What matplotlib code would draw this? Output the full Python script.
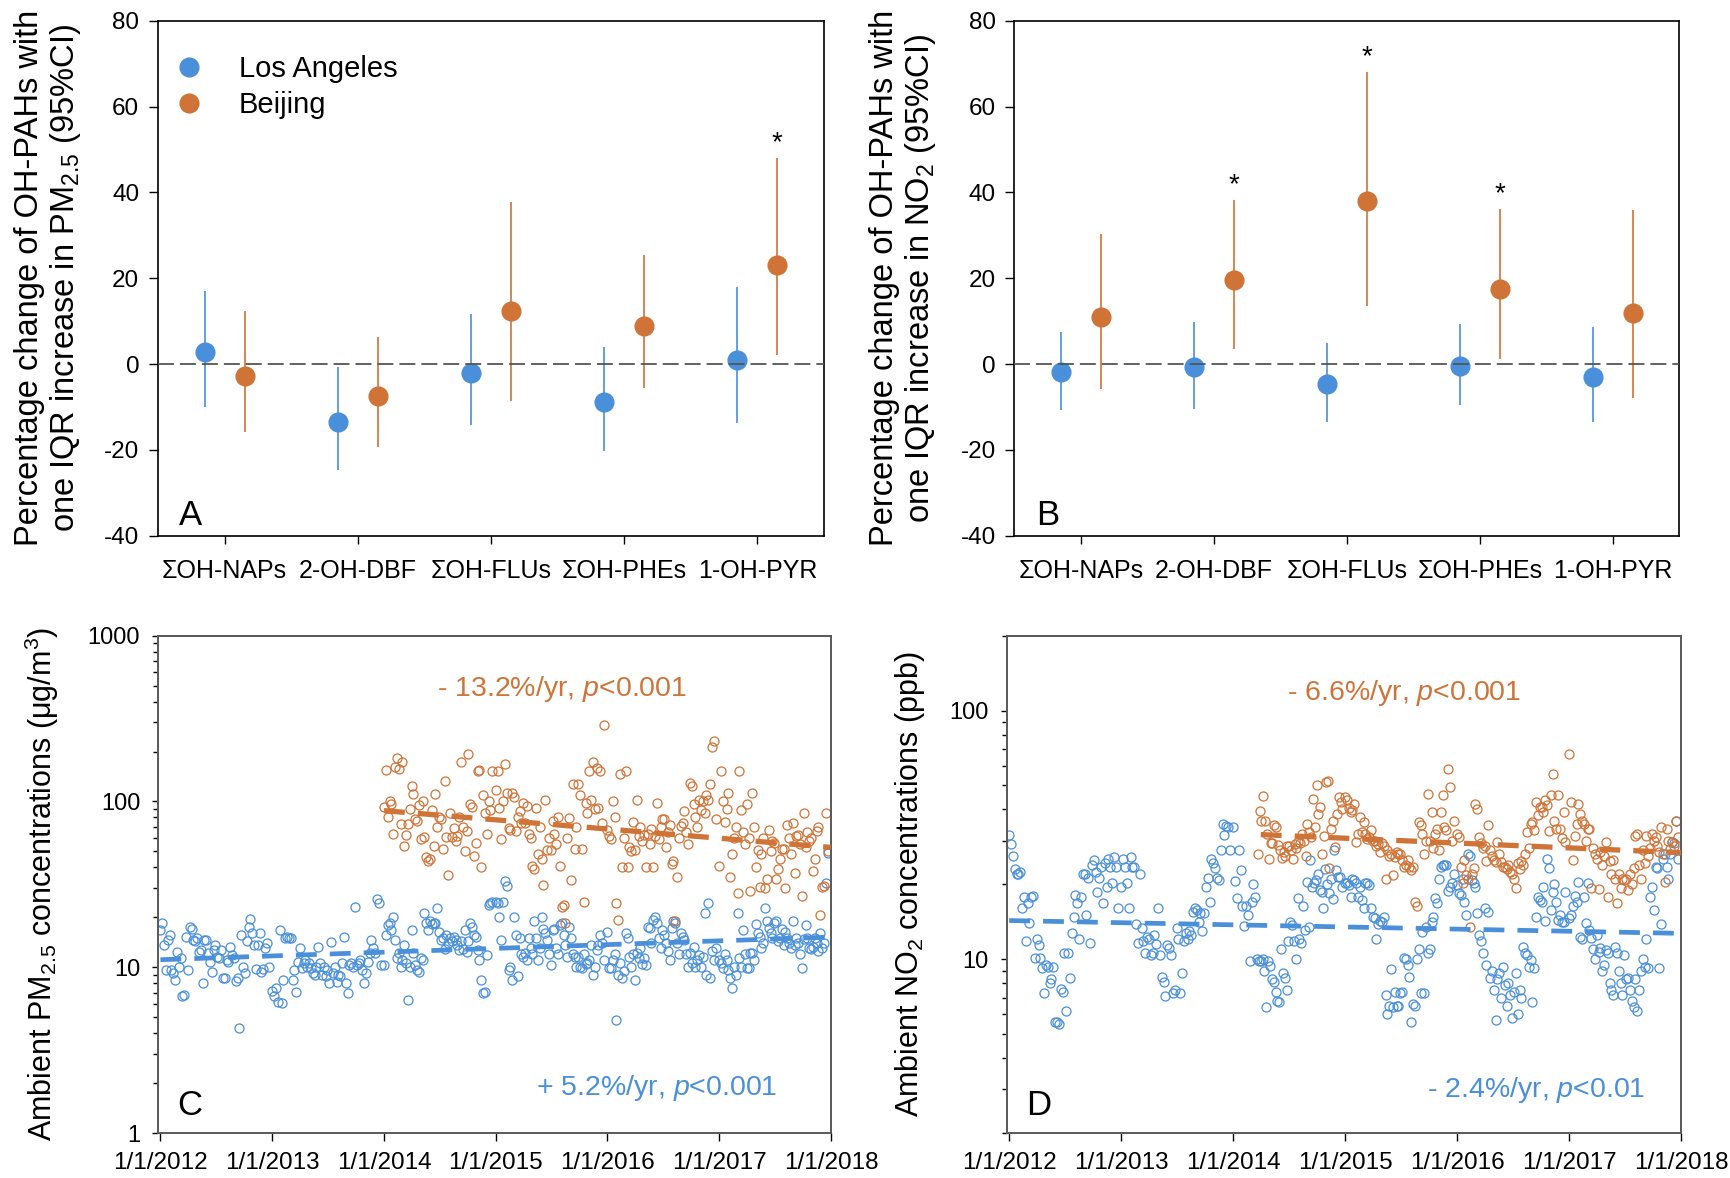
import numpy as np
import pandas as pd
import matplotlib
matplotlib.use('Agg')
import matplotlib.pyplot as plt
from matplotlib.lines import Line2D
from matplotlib.ticker import LogLocator, NullFormatter

plt.rcParams['font.family'] = ['Liberation Sans', 'DejaVu Sans']
plt.rcParams['mathtext.fontset'] = 'custom'
plt.rcParams['mathtext.rm'] = 'Liberation Sans'
plt.rcParams['mathtext.it'] = 'Liberation Sans:italic'
plt.rcParams['mathtext.bf'] = 'Liberation Sans:bold'
plt.rcParams['lines.scale_dashes'] = False
plt.rcParams['axes.unicode_minus'] = False

BLUE = '#4A8FD9'
ORANGE = '#CF7337'

# ---- panels A/B: % change per IQR (estimate, lower CI, upper CI) ----
categories = ['ΣOH-NAPs', '2-OH-DBF', 'ΣOH-FLUs', 'ΣOH-PHEs', '1-OH-PYR']

pm_la_est = [2.8, -13.4, -2.0, -8.8, 1.0]
pm_la_lo = [-10.0, -24.6, -14.1, -20.2, -13.8]
pm_la_hi = [17.0, -0.7, 11.6, 3.9, 17.9]
pm_bj_est = [-2.7, -7.4, 12.3, 8.9, 23.1]
pm_bj_lo = [-15.8, -19.4, -8.6, -5.6, 2.1]
pm_bj_hi = [12.3, 6.3, 37.7, 25.5, 48.1]
pm_bj_sig = [False, False, False, False, True]

no2_la_est = [-1.8, -0.7, -4.6, -0.5, -3.1]
no2_la_lo = [-10.8, -10.4, -13.5, -9.5, -13.5]
no2_la_hi = [7.5, 9.8, 5.0, 9.3, 8.7]
no2_bj_est = [10.9, 19.7, 38.0, 17.4, 11.9]
no2_bj_lo = [-5.8, 3.6, 13.5, 1.1, -8.0]
no2_bj_hi = [30.3, 38.2, 68.0, 36.2, 35.8]
no2_bj_sig = [False, True, True, True, False]

# ---- panels C/D: ambient concentrations, one sample every 6 days ----
date_ticks = ['2012-01-01', '2013-01-01', '2014-01-01', '2015-01-01',
              '2016-01-01', '2017-01-01', '2018-01-01']
date_labels = ['1/1/2012', '1/1/2013', '1/1/2014', '1/1/2015',
               '1/1/2016', '1/1/2017', '1/1/2018']

la_pm_2012 = [16.8, 18.6, 13.6, 9.6, 14.6, 15.7, 9.6, 9.2, 8.4, 12.4, 10.1, 11.3, 6.7, 6.8, 15.3,
              9.6, 17.6, 17.0, 14.5, 14.3, 15.0, 12.4, 12.7, 8.0, 14.6, 14.5, 12.1, 10.8, 9.4, 12.7,
              13.6, 11.6, 11.3, 12.7, 8.6, 8.6, 11.1, 10.8, 13.3, 11.9, 11.3, 8.3, 8.6, 4.3, 15.7,
              10.1, 9.2, 14.3, 17.6, 19.5, 16.1, 13.6, 9.7, 13.6, 16.1, 9.4, 9.7, 13.0, 14.0, 10.0]
la_pm_2013 = [7.2, 6.7, 7.5, 6.2, 16.8, 6.1, 8.4, 15.1, 15.3, 15.0, 15.0, 8.4, 9.6, 7.1, 10.8,
              13.0, 9.9, 10.6, 11.1, 10.1, 10.6, 9.9, 9.2, 9.0, 10.1, 13.2, 10.6, 9.0, 10.1, 8.8,
              9.6, 8.0, 14.2, 9.2, 10.1, 8.2, 9.0, 8.8, 10.6, 15.3, 8.0, 7.0, 10.3, 10.6, 10.1,
              23.0, 10.3, 10.6, 11.1, 9.6, 8.0, 9.2, 10.8, 12.1, 14.6, 13.0, 12.1, 25.8, 24.3, 10.3]
la_pm_2014 = [10.3, 15.7, 17.9, 18.4, 16.8, 20.2, 14.6, 11.3, 12.1, 10.1, 11.1, 13.6, 10.6, 6.3, 10.1,
              16.8, 12.1, 10.3, 9.6, 9.4, 11.3, 11.1, 21.2, 18.4, 16.8, 18.9, 18.2, 18.4, 18.4, 22.7,
              16.4, 14.6, 15.0, 12.9, 15.7, 14.0, 15.0, 14.3, 15.3, 14.6, 13.6, 12.7, 14.3, 12.9, 16.8,
              12.4, 14.3, 18.4, 17.6, 15.7, 15.3, 12.7, 11.1, 8.4, 7.0, 7.1, 11.8, 23.7, 24.3, 24.9]
la_pm_2015 = [24.9, 24.3, 20.2, 14.6, 24.9, 32.9, 30.7, 9.6, 10.0, 8.4, 20.2, 15.7, 8.9, 15.0, 12.0,
              11.5, 12.1, 11.1, 15.0, 13.0, 12.0, 18.9, 15.0, 11.0, 13.0, 20.2, 17.0, 16.0, 14.6, 12.0,
              10.3, 16.8, 17.0, 13.0, 12.0, 17.9, 18.4, 15.7, 13.6, 11.5, 17.5, 15.0, 12.0, 11.5, 10.0,
              11.6, 10.1, 9.9, 12.0, 10.5, 10.6, 11.1, 13.6, 9.0, 10.0, 12.7, 13.6, 15.7, 14.0, 11.0]
la_pm_2016 = [16.4, 9.9, 9.9, 11.0, 12.0, 4.8, 9.0, 10.6, 8.6, 9.5, 16.0, 15.0, 11.6, 10.0, 12.0,
              8.4, 12.1, 11.3, 13.0, 10.5, 11.3, 10.3, 17.6, 17.2, 14.0, 19.4, 20.2, 18.6, 15.0, 13.0,
              16.8, 15.7, 14.0, 12.5, 11.0, 17.2, 19.1, 18.6, 14.0, 12.0, 16.0, 15.3, 14.6, 12.0, 10.0,
              12.1, 10.6, 13.3, 10.0, 11.0, 11.8, 10.1, 11.6, 21.2, 9.0, 24.3, 8.6, 12.5, 11.0, 13.0]
la_pm_2017 = [11.1, 10.6, 9.9, 12.0, 11.0, 9.6, 8.6, 7.5, 10.0, 9.0, 21.2, 11.3, 10.1, 16.8, 12.0,
              9.9, 9.9, 12.1, 12.1, 11.0, 18.1, 16.0, 15.3, 13.0, 14.0, 22.7, 19.1, 17.2, 16.0, 15.0,
              18.4, 19.1, 14.3, 15.0, 17.0, 13.6, 16.4, 15.0, 14.0, 13.0, 19.1, 13.6, 15.0, 14.0, 12.0,
              9.9, 14.8, 17.9, 15.0, 13.0, 12.9, 13.2, 15.0, 14.0, 12.5, 16.0, 13.0, 14.0, 32.0, 48.7]

bj_pm_2014 = [93, 154, 81, 100, 97, 64, 162, 182, 157, 73, 172, 54, 63, 73, 90,
              124, 111, 78, 76, 95, 59, 100, 61, 46, 44, 45, 89, 54, 111, 70,
              80, 78, 52, 133, 61, 36, 85, 61, 69, 58, 62, 81, 174, 70, 50,
              66, 194, 96, 92, 47, 56, 152, 155, 40, 110, 85, 64, 100, 89, 152]
bj_pm_2015 = [117, 152, 91, 59, 100, 168, 112, 69, 67, 112, 107, 66, 81, 88, 74,
              98, 74, 94, 64, 60, 41, 39, 91, 48, 70, 45, 31.4, 102, 51, 60,
              51, 76, 64, 55, 80, 41, 23, 23.7, 18.4, 60, 79, 33.7, 127, 52, 70,
              127, 110, 52, 24.9, 98, 85, 152, 102, 174, 90, 159, 91, 152, 74, 290]
bj_pm_2016 = [67, 62, 59, 100, 80, 24.3, 19.3, 147, 40, 60, 152, 40, 53, 50, 75,
              51, 102, 62, 70, 58, 63, 40, 64, 55, 68, 40, 62, 98, 59, 70,
              78, 78, 53, 65, 72, 42, 44, 18.9, 35, 60, 71, 74, 88, 65, 55,
              129, 124, 96, 80, 70, 102, 89, 100, 85, 110, 102, 127, 214, 230, 78]
bj_pm_2017 = [41, 152, 100, 75, 90, 112, 35, 48, 60, 70, 28, 152, 89, 65, 55,
              96, 60, 28.7, 112, 70, 40, 51, 30.5, 48, 60, 30, 34, 67, 50, 58,
              56, 34, 39, 45, 52, 52, 30, 72, 60, 48, 74, 37, 62, 63, 55,
              27, 85, 53, 65, 58, 60, 38, 45, 66, 70, 20.6, 30.5, 31, 85, 50]

la_no2_2012 = [31.5, 29.0, 26.0, 23.0, 22.0, 22.0, 22.5, 16.0, 17.8, 11.8, 16.8, 14.0, 17.8, 18.0, 10.1,
               12.0, 11.4, 10.1, 9.2, 7.3, 9.5, 9.3, 8.0, 8.3, 9.3, 5.6, 5.6, 5.5, 7.6, 7.4,
               10.6, 6.2, 10.6, 8.4, 12.7, 14.8, 18.1, 16.8, 12.0, 17.8, 22.1, 22.1, 15.0, 21.3, 11.6,
               23.9, 25.0, 22.5, 18.7, 21.3, 23.5, 16.8, 24.3, 19.6, 25.3, 23.5, 20.2, 25.8, 23.5, 16.1]
la_no2_2013 = [19.6, 25.3, 23.5, 20.2, 16.1, 25.8, 23.5, 23.5, 13.9, 11.6, 22.1, 13.3, 11.8, 10.6, 12.3,
               12.0, 10.4, 10.6, 12.5, 11.5, 16.1, 10.4, 8.5, 8.1, 7.1, 11.4, 11.1, 10.4, 7.3, 7.5,
               13.3, 12.0, 7.3, 8.8, 11.8, 12.7, 12.0, 13.0, 12.5, 15.5, 16.1, 15.8, 14.1, 15.3, 13.0,
               15.3, 19.6, 21.3, 17.0, 25.3, 24.3, 23.2, 21.3, 20.8, 27.6, 35.0, 31.5, 34.4, 34.0, 27.4]
la_no2_2014 = [34.0, 20.6, 17.6, 27.4, 22.8, 16.3, 13.6, 16.3, 15.0, 9.8, 17.0, 20.0, 17.8, 10.0, 9.8,
               9.8, 10.0, 9.0, 6.4, 9.8, 9.4, 8.3, 8.1, 7.4, 6.8, 6.7, 11.0, 8.8, 8.4, 7.5,
               11.8, 14.1, 13.7, 11.8, 10.0, 17.6, 12.0, 11.6, 16.3, 13.1, 20.5, 13.5, 25.0, 19.6, 20.2,
               20.8, 22.1, 19.0, 18.7, 16.0, 23.0, 20.0, 18.5, 21.0, 17.5, 27.5, 22.8, 21.4, 21.4, 19.6]
la_no2_2015 = [20.2, 20.2, 19.8, 17.8, 21.0, 20.8, 20.2, 17.8, 19.6, 17.3, 16.1, 20.2, 20.2, 19.8, 16.1,
               14.8, 14.6, 12.0, 13.9, 14.3, 14.1, 14.8, 7.2, 6.0, 6.5, 9.1, 6.4, 7.4, 6.5, 6.5,
               7.3, 7.4, 10.1, 10.0, 9.5, 8.5, 5.6, 6.6, 6.5, 10.0, 11.0, 7.3, 12.9, 7.3, 13.5,
               10.6, 11.0, 14.1, 14.8, 17.6, 16.8, 21.1, 23.5, 23.9, 23.9, 23.9, 18.8, 19.6, 20.2, 22.0]
la_no2_2016 = [19.9, 18.5, 18.2, 21.0, 17.0, 15.0, 26.6, 26.0, 20.8, 20.2, 19.6, 15.3, 12.5, 11.8, 10.6,
               16.1, 9.5, 15.5, 8.4, 9.0, 7.5, 5.7, 8.3, 8.8, 7.0, 9.3, 7.9, 6.5, 8.0, 7.2,
               5.8, 7.4, 8.8, 6.0, 7.5, 7.0, 11.2, 10.6, 10.4, 9.3, 9.9, 6.7, 9.2, 14.8, 17.8,
               17.3, 17.0, 19.6, 14.3, 25.4, 23.2, 15.8, 18.7, 20.0, 17.0, 14.4, 15.0, 14.1, 14.1, 18.7]
la_no2_2017 = [14.6, 15.0, 16.3, 18.0, 17.0, 20.5, 12.3, 12.1, 17.8, 14.0, 20.2, 13.1, 12.2, 11.0, 10.0,
               12.5, 10.7, 11.1, 9.0, 9.5, 10.9, 10.6, 8.0, 7.5, 7.2, 11.2, 10.6, 9.0, 8.0, 7.2,
               10.4, 8.3, 8.4, 7.5, 6.8, 6.4, 8.3, 6.2, 7.5, 9.0, 10.0, 9.3, 12.1, 9.2, 17.8,
               19.6, 15.8, 23.5, 23.2, 9.2, 13.9, 25.2, 26.6, 23.5, 21.0, 26.6, 29.6, 29.2, 36.1, 25.4]

bj_no2_2014 = [26.6, 39.5, 36.1, 45.3, 36.1, 32.0, 25.2, 29.3, 29.3, 34.6, 34.0, 28.7,
               27.6, 25.6, 27.0, 26.0, 28.4, 28.4, 27.5, 25.2, 29.0, 28.0, 29.5, 29.3, 32.0, 30.0, 26.0,
               35.1, 32.5, 31.0, 44.0, 34.0, 50.0, 38.5, 40.9, 26.6, 31.2, 51.7, 52.3, 23.2, 33.5, 36.0,
               28.3, 38.5, 45.0, 42.9, 40.0]
bj_no2_2015 = [45.0, 43.6, 40.5, 39.0, 39.7, 42.2, 29.6, 32.0, 37.4, 32.5, 35.6, 32.0, 30.5, 31.0, 33.0,
               30.0, 30.0, 28.4, 29.0, 27.0, 29.2, 28.5, 21.1, 27.5, 26.0, 26.6, 21.8, 25.8, 27.0, 26.6,
               26.6, 25.0, 23.5, 24.0, 25.0, 23.5, 22.8, 23.5, 17.0, 16.3, 35.6, 34.6, 32.0, 26.6, 30.0,
               46.3, 30.0, 39.0, 28.0, 32.0, 33.5, 27.5, 39.0, 45.6, 34.0, 33.0, 58.4, 49.2, 30.0, 36.0]
bj_no2_2016 = [32.0, 31.1, 23.5, 20.2, 25.0, 21.8, 21.0, 13.5, 22.1, 23.2, 42.0, 40.0, 31.0, 29.2, 28.0,
               28.4, 24.8, 34.6, 27.5, 26.0, 25.0, 24.6, 29.6, 26.6, 24.5, 23.5, 23.5, 23.0, 24.0, 22.5,
               22.1, 21.1, 19.4, 24.4, 23.0, 24.8, 24.0, 26.6, 32.5, 28.0, 35.1, 35.6, 33.0, 42.9, 38.0,
               40.9, 41.0, 39.0, 43.6, 41.5, 32.8, 45.6, 55.7, 36.0, 33.5, 45.6, 33.5, 30.6, 39.0, 29.6]
bj_no2_2017 = [66.9, 42.9, 25.0, 31.4, 35.0, 42.2, 38.5, 36.1, 35.1, 30.0, 33.5, 33.5, 19.4, 28.0, 26.6,
               25.2, 19.2, 27.0, 24.0, 26.0, 29.6, 17.8, 24.8, 22.0, 25.0, 21.1, 16.8, 22.1, 19.4, 21.0,
               20.8, 21.1, 19.0, 22.0, 20.0, 23.2, 31.4, 32.0, 24.0, 21.0, 27.5, 24.4, 31.2, 26.0, 28.0,
               32.0, 30.0, 31.0, 28.4, 27.0, 34.0, 26.6, 20.5, 33.5, 30.0, 27.8, 29.6, 28.4, 36.0, 31.0]

# fitted trend lines: (start date, end date, start value, end value)
la_pm_trend = ('2012-01-01', '2018-01-01', 11.1, 15.2)
bj_pm_trend = ('2014-01-01', '2018-01-01', 88.0, 52.8)
la_no2_trend = ('2012-01-01', '2018-01-01', 14.3, 12.7)
bj_no2_trend = ('2014-04-01', '2018-01-01', 31.7, 26.8)


def effect_panel(ax, la, bj, bj_sig, ylabel, letter, label_x, legend=False):
    x = np.arange(len(categories))
    for (est, lo, hi), off, col in ((la, 0.35, BLUE), (bj, 0.65, ORANGE)):
        est, lo, hi = np.array(est), np.array(lo), np.array(hi)
        ax.errorbar(x + off, est, yerr=[est - lo, hi - est], fmt='o', ms=13.5,
                    color=col, ecolor=col, elinewidth=1.2, capsize=0, zorder=3)
    for i, s in enumerate(bj_sig):
        if s:
            ax.annotate('*', (x[i] + 0.65, bj[2][i]), xytext=(0, 5.5), textcoords='offset points',
                        ha='center', va='baseline', fontsize=20)
    ax.axhline(0, color='#555555', lw=1.3, dashes=(11.5, 4.3), zorder=4)
    ax.set_xlim(0, 5)
    ax.set_ylim(-40, 80)
    ax.set_yticks(np.arange(-40, 81, 20))
    ax.set_xticks(x + 0.5)
    ax.set_xticklabels(categories)
    ax.tick_params(axis='x', direction='out', length=5.5, width=1, labelsize=18, pad=11)
    ax.tick_params(axis='y', direction='out', length=6.5, width=1, labelsize=17.5, pad=7)
    ax.set_ylabel(ylabel, fontsize=23.5, linespacing=1.1)
    ax.yaxis.set_label_coords(label_x, 0.5)
    ax.text(0.032, 0.021, letter, transform=ax.transAxes, fontsize=25, va='baseline')
    for sp in ax.spines.values():
        sp.set_linewidth(1.2)
        sp.set_color('black')
    if legend:
        handles = [Line2D([], [], ls='none', marker='o', ms=13.5, color=BLUE),
                   Line2D([], [], ls='none', marker='o', ms=13.5, color=ORANGE)]
        ax.legend(handles, ['Los Angeles', 'Beijing'], loc='upper left',
                  bbox_to_anchor=(0.025, 0.933), frameon=False, fontsize=21,
                  handlelength=1.0, handletextpad=1.2, labelspacing=0.28,
                  borderpad=0, borderaxespad=0)


def conc_panel(ax, la_parts, bj_parts, la_trend, bj_trend, ylim, yticks, ylabel,
               letter, notes, label_x, ypad):
    for parts, col in ((la_parts, BLUE), (bj_parts, ORANGE)):
        for start, vals in parts:
            d = pd.date_range(start, periods=len(vals), freq='6D')
            ax.plot(d, vals, ls='none', marker='o', ms=6.5, mfc='none', mec=col, mew=0.9)
    for (d0, d1, v0, v1), col, lw in ((la_trend, BLUE, 3.4), (bj_trend, ORANGE, 3.8)):
        ax.plot(pd.to_datetime([d0, d1]), [v0, v1], color=col, lw=lw,
                dashes=(15, 9.4), zorder=5)
    ax.set_yscale('log')
    ax.set_ylim(*ylim)
    ax.set_yticks(yticks)
    ax.set_yticklabels([str(t) for t in yticks])
    ax.yaxis.set_minor_locator(LogLocator(base=10, subs=np.arange(2, 10)))
    ax.yaxis.set_minor_formatter(NullFormatter())
    ax.set_xlim(pd.Timestamp('2011-12-25'), pd.Timestamp('2018-01-01'))
    ax.set_xticks(pd.to_datetime(date_ticks))
    ax.set_xticklabels(date_labels)
    ax.tick_params(axis='x', direction='out', length=5.5, width=1, labelsize=17.5, pad=8)
    ax.tick_params(axis='y', which='major', direction='out', length=4, width=1,
                   labelsize=17, pad=ypad)
    ax.tick_params(axis='y', which='minor', direction='out', length=3.5, width=1)
    ax.set_ylabel(ylabel, fontsize=22)
    ax.yaxis.set_label_coords(label_x, 0.5)
    ax.text(0.028, 0.036, letter, transform=ax.transAxes, fontsize=25, va='baseline')
    for txt, xy, col in notes:
        ax.text(xy[0], xy[1], txt, transform=ax.transAxes, fontsize=20.5, color=col,
                va='baseline')
    for sp in ax.spines.values():
        sp.set_linewidth(1.4)
        sp.set_color('#595959')


fig = plt.figure(figsize=(17.3, 11.78), dpi=100)
axA = fig.add_axes([0.0913, 0.5452, 0.3850, 0.4372])
axB = fig.add_axes([0.5864, 0.5452, 0.3844, 0.4372])
axC = fig.add_axes([0.0915, 0.0382, 0.3888, 0.4222])
axD = fig.add_axes([0.5821, 0.0382, 0.3896, 0.4222])

effect_panel(axA, (pm_la_est, pm_la_lo, pm_la_hi), (pm_bj_est, pm_bj_lo, pm_bj_hi), pm_bj_sig,
             'Percentage change of OH-PAHs with\none IQR increase in PM$_{2.5}$ (95%CI)',
             'A', -0.113, legend=True)
effect_panel(axB, (no2_la_est, no2_la_lo, no2_la_hi), (no2_bj_est, no2_bj_lo, no2_bj_hi),
             no2_bj_sig,
             'Percentage change of OH-PAHs with\none IQR increase in NO$_2$ (95%CI)',
             'B', -0.115)

conc_panel(axC,
           [('2012-01-01', la_pm_2012), ('2013-01-01', la_pm_2013), ('2014-01-01', la_pm_2014),
            ('2015-01-01', la_pm_2015), ('2016-01-01', la_pm_2016), ('2017-01-01', la_pm_2017)],
           [('2014-01-01', bj_pm_2014), ('2015-01-01', bj_pm_2015), ('2016-01-01', bj_pm_2016),
            ('2017-01-01', bj_pm_2017)],
           la_pm_trend, bj_pm_trend, (1, 1000), [1, 10, 100, 1000],
           'Ambient PM$_{2.5}$ concentrations (μg/m$^3$)', 'C',
           [(r'- 13.2%/yr, $\mathit{p}$<0.001', (0.414, 0.879), ORANGE),
            (r'+ 5.2%/yr, $\mathit{p}$<0.001', (0.562, 0.076), BLUE)],
           -0.145, 9)
conc_panel(axD,
           [('2012-01-01', la_no2_2012), ('2013-01-01', la_no2_2013), ('2014-01-01', la_no2_2014),
            ('2015-01-01', la_no2_2015), ('2016-01-01', la_no2_2016), ('2017-01-01', la_no2_2017)],
           [('2014-03-22', bj_no2_2014), ('2015-01-01', bj_no2_2015), ('2016-01-01', bj_no2_2016),
            ('2017-01-01', bj_no2_2017)],
           la_no2_trend, bj_no2_trend, (2, 200), [10, 100],
           'Ambient NO$_2$ concentrations (ppb)', 'D',
           [(r'- 6.6%/yr, $\mathit{p}$<0.001', (0.415, 0.871), ORANGE),
            (r'- 2.4%/yr, $\mathit{p}$<0.01', (0.623, 0.072), BLUE)],
           -0.119, 9.5)

fig.savefig('out.png', dpi=100)
